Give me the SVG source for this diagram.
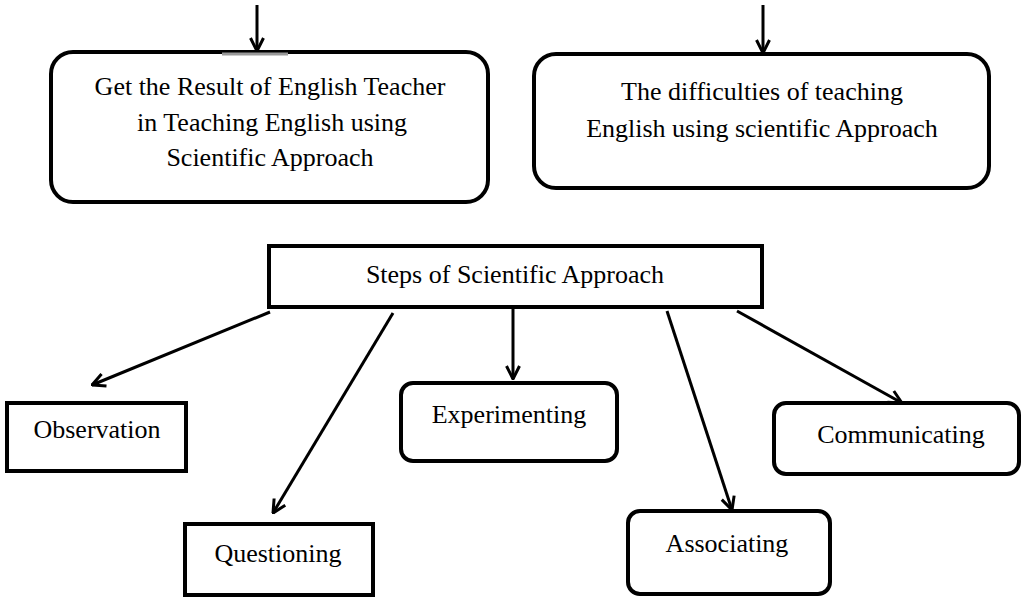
<svg xmlns="http://www.w3.org/2000/svg" width="1021" height="598" viewBox="0 0 1021 598">
<style>
.box{fill:#fff;stroke:#000;stroke-width:4}
.t{font-family:"Liberation Serif","Times New Roman",serif;font-size:26px;fill:#000;text-anchor:middle}
.c{stroke:#000;stroke-width:3;fill:none}
</style>
<defs>
<marker id="ah" viewBox="0 0 16 16" refX="15" refY="8" markerWidth="16" markerHeight="16" markerUnits="userSpaceOnUse" orient="auto">
<path d="M2,1.5 L15,8 L2,14.5" fill="none" stroke="#000" stroke-width="3"/>
</marker>
</defs>
<rect width="1021" height="598" fill="#fff"/>
<g id="result">
<rect class="box" x="51" y="52" width="437" height="150" rx="22"/>
<line x1="222" y1="54" x2="288" y2="54" stroke="#999" stroke-width="3"/>
<text class="t" x="270" y="95">Get the Result of English Teacher</text>
<text class="t" x="272" y="131">in Teaching English using</text>
<text class="t" x="270" y="166">Scientific Approach</text>
</g>
<g id="difficulties">
<rect class="box" x="534" y="54" width="455" height="134" rx="22"/>
<text class="t" x="762" y="100">The difficulties of teaching</text>
<text class="t" x="762" y="137">English using scientific Approach</text>
</g>
<g id="steps">
<rect class="box" x="269" y="246" width="493" height="61" stroke-width="5"/>
<text class="t" x="515" y="283">Steps of Scientific Approach</text>
</g>
<g id="observation">
<rect class="box" x="7" y="403" width="179" height="68"/>
<text class="t" x="97" y="438">Observation</text>
</g>
<g id="questioning">
<rect class="box" x="185" y="524" width="188" height="71"/>
<text class="t" x="278" y="562">Questioning</text>
</g>
<g id="experimenting">
<rect class="box" x="401" y="383" width="216" height="78" rx="12"/>
<text class="t" x="509" y="423">Experimenting</text>
</g>
<g id="associating">
<rect class="box" x="628" y="511" width="202" height="83" rx="12"/>
<text class="t" x="727" y="552">Associating</text>
</g>
<g id="communicating">
<rect class="box" x="774" y="403" width="245" height="71" rx="12"/>
<text class="t" x="901" y="443">Communicating</text>
</g>
<g id="connectors">
<line class="c" x1="257" y1="5" x2="257" y2="51" marker-end="url(#ah)"/>
<line class="c" x1="763" y1="5" x2="763" y2="53" marker-end="url(#ah)"/>
<line class="c" x1="270" y1="312" x2="92" y2="385" marker-end="url(#ah)"/>
<line class="c" x1="393" y1="313" x2="273" y2="513" marker-end="url(#ah)"/>
<line class="c" x1="513" y1="309" x2="513" y2="379" marker-end="url(#ah)"/>
<line class="c" x1="667" y1="311" x2="732" y2="510" marker-end="url(#ah)"/>
<line class="c" x1="737" y1="311" x2="902" y2="403" marker-end="url(#ah)"/>
</g>
</svg>
